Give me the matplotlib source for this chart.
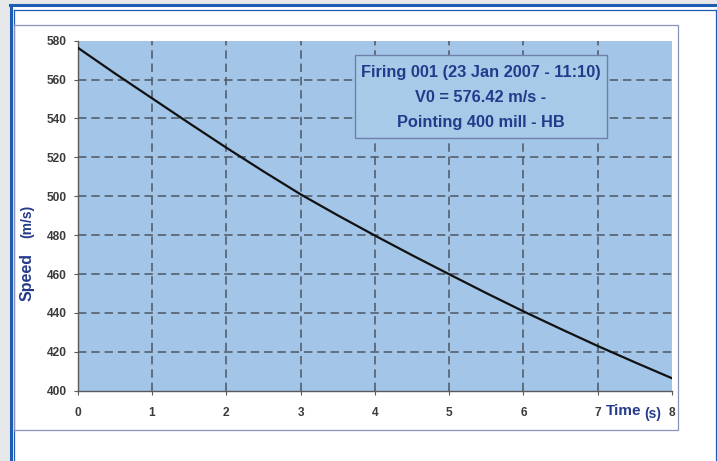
import matplotlib
matplotlib.use("Agg")
import matplotlib.pyplot as plt
from matplotlib.patches import Rectangle
from matplotlib.lines import Line2D

# ---- data ----
time_s = [0, 0.5, 1, 1.5, 2, 2.5, 3, 3.5, 4, 4.5, 5, 5.5, 6, 6.5, 7, 7.5, 8]
speed_ms = [576.42, 563.2, 550.4, 537.6, 525.0, 512.8, 501.0, 490.2, 479.8,
            469.7, 459.9, 450.2, 440.8, 431.8, 423.0, 414.6, 406.4]
x_ticks = [0, 1, 2, 3, 4, 5, 6, 7, 8]
y_ticks = [400, 420, 440, 460, 480, 500, 520, 540, 560, 580]
note_lines = ["Firing 001 (23 Jan 2007 - 11:10)", "V0 = 576.42 m/s -", "Pointing 400 mill - HB"]

W, H = 717, 461
plt.rcParams['font.family'] = ['Liberation Sans', 'DejaVu Sans']
fig = plt.figure(figsize=(W / 100, H / 100), dpi=100)
fig.patch.set_facecolor('#e6e8ea')

def fx(px):
    return px / W

def fy(py):
    return 1 - py / H

TEXT_BLUE = '#243a8a'
FRAME_BLUE = '#1f5cb4'

# white panel
fig.patches.append(Rectangle((fx(10), 0), 1 - fx(10), fy(5), transform=fig.transFigure,
                             facecolor='white', edgecolor='none', zorder=0))
# outer thick blue border (left and top)
fig.lines.append(Line2D([fx(10.5), fx(10.5)], [0, fy(5.5)], transform=fig.transFigure,
                        color=FRAME_BLUE, lw=2.2, zorder=1))
fig.lines.append(Line2D([fx(10), 1], [fy(5.5), fy(5.5)], transform=fig.transFigure,
                        color=FRAME_BLUE, lw=2.2, zorder=1))
# inner thin blue border
fig.lines.append(Line2D([fx(13.5), fx(13.5)], [0, fy(10)], transform=fig.transFigure,
                        color=FRAME_BLUE, lw=0.9, zorder=1))
fig.lines.append(Line2D([fx(13.5), fx(715.5)], [fy(10), fy(10)], transform=fig.transFigure,
                        color=FRAME_BLUE, lw=0.9, zorder=1))
fig.lines.append(Line2D([fx(715.5), fx(715.5)], [0, fy(10)], transform=fig.transFigure,
                        color=FRAME_BLUE, lw=0.9, zorder=1))
# chart area box
fig.patches.append(Rectangle((fx(14), fy(430)), fx(678) - fx(14), fy(25) - fy(430),
                             transform=fig.transFigure, facecolor='none',
                             edgecolor='#8a93b8', lw=0.9, zorder=1))

ax = fig.add_axes([fx(77.7), fy(390.7), fx(672) - fx(77.7), fy(40.7) - fy(390.7)])
ax.set_zorder(3)
ax.set_facecolor('#a2c5e8')
ax.set_xlim(0, 8)
ax.set_ylim(400, 580)

# inner dashed grid (no lines on the top / right edges)
GRID_STYLE = dict(color='#4d5762', lw=1.1, linestyle=(0, (5.5, 3.2)), zorder=1)
ax.hlines(y_ticks[1:-1], 0, 8, **GRID_STYLE)
ax.vlines(x_ticks[1:-1], 400, 580, **GRID_STYLE)

ax.plot(time_s, speed_ms, color='#111111', lw=1.6, zorder=3)

ax.set_xticks(x_ticks)
ax.set_yticks(y_ticks)
ax.set_xticklabels([str(v) for v in x_ticks])
ax.set_yticklabels([str(v) for v in y_ticks])
for s in ['top', 'right']:
    ax.spines[s].set_visible(False)
for s in ['left', 'bottom']:
    ax.spines[s].set_color('#5a5a5a')
    ax.spines[s].set_linewidth(1.0)
ax.tick_params(axis='both', direction='out', length=3, color='#5a5a5a',
               labelsize=8.6, labelcolor='#3a3a3a')
ax.tick_params(axis='x', pad=9)
ax.tick_params(axis='y', pad=5)
for lab in ax.get_xticklabels() + ax.get_yticklabels():
    lab.set_fontweight('bold')

# axis titles
fig.text(fx(27), fy(277), "Speed", rotation=90, ha='center', va='center',
         fontsize=11.5, fontweight='bold', color=TEXT_BLUE, zorder=6)
fig.text(fx(27), fy(221), "(m/s)", rotation=90, ha='center', va='center',
         fontsize=10, fontweight='bold', color=TEXT_BLUE, zorder=6)
fig.text(fx(606), fy(411), "Time", ha='left', va='center',
         fontsize=11, fontweight='bold', color=TEXT_BLUE, zorder=6)
fig.text(fx(644.5), fy(414), "(s)", ha='left', va='center',
         fontsize=10, fontweight='bold', color=TEXT_BLUE, zorder=6)

# annotation box
fig.patches.append(Rectangle((fx(355), fy(138)), fx(607) - fx(355), fy(55) - fy(138),
                             transform=fig.transFigure, facecolor='#a8cae9',
                             edgecolor='#6f7fa8', lw=1.0, zorder=5))
for i, line in enumerate(note_lines):
    fig.text(fx(481), fy(72 + 25 * i), line, ha='center', va='center',
             fontsize=11.8, fontweight='bold', color=TEXT_BLUE, zorder=6)

fig.savefig("out.png", dpi=100, facecolor=fig.get_facecolor())
